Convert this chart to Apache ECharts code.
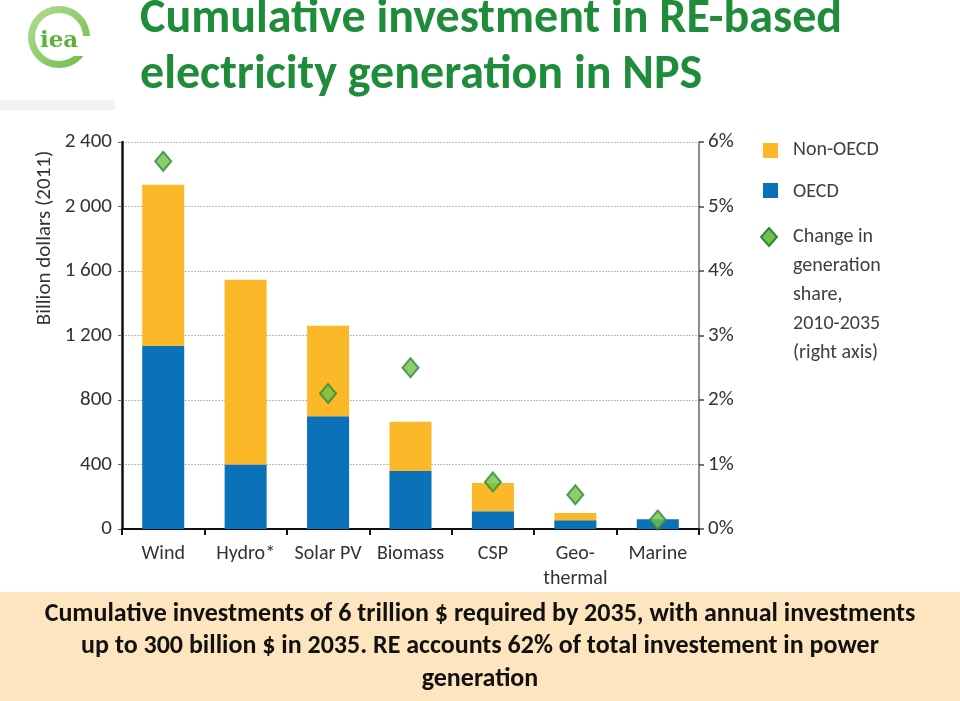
<!DOCTYPE html>
<html><head><meta charset="utf-8">
<script src="https://cdn.jsdelivr.net/npm/echarts@6/dist/echarts.min.js"></script>
<style>html,body{margin:0;padding:0;background:#fff;}#c{width:960px;height:701px;}</style>
</head><body><div id="c"></div>
<script>
const categories = ['Wind','Hydro*','Solar PV','Biomass','CSP','Geo-\nthermal','Marine'];
const oecd = [1135, 400, 700, 360, 110, 55, 60];
const nonOecd = [1000, 1145, 560, 305, 175, 45, 0];
const shareChange = [5.7, null, 2.1, 2.5, 0.73, 0.53, 0.14];
const leftTicks = [0, 400, 800, 1200, 1600, 2000, 2400];
const rightTicks = [0, 1, 2, 3, 4, 5, 6];

const FONT = 'Carlito, "Liberation Sans Narrow", "Open Sans", sans-serif';
const chart = echarts.init(document.getElementById('c'));
const fmtThousands = v => v >= 1000 ? String(v).replace(/(\d)(\d{3})$/, '$1 $2') : String(v);

chart.setOption({
  animation: false,
  grid: { left: 122, right: 261, top: 142, bottom: 172, containLabel: false },
  xAxis: {
    type: 'category', data: categories,
    axisLine: { lineStyle: { color: '#111', width: 2 } },
    axisTick: { show: true, alignWithLabel: false, length: 6, lineStyle: { color: '#111', width: 2 } },
    axisLabel: { interval: 0, fontFamily: FONT, fontSize: 20, color: '#333', margin: 12, lineHeight: 25 }
  },
  yAxis: [{
    type: 'value', min: 0, max: 2400, interval: 400,
    axisLine: { show: true, lineStyle: { color: '#111', width: 2.5 } },
    axisTick: { show: true, length: 4, lineStyle: { color: '#666' } },
    axisLabel: { fontFamily: FONT, fontSize: 21, color: '#333', margin: 10, formatter: fmtThousands },
    splitLine: { show: true, lineStyle: { color: '#bbb', type: [2, 1], width: 1 } }
  }, {
    type: 'value', min: 0, max: 6, interval: 1, position: 'right',
    axisLine: { show: true, lineStyle: { color: '#666', width: 1.5 } },
    axisTick: { show: true, length: 5, lineStyle: { color: '#444', width: 1.5 } },
    axisLabel: { fontFamily: FONT, fontSize: 21, color: '#333', margin: 9, formatter: v => v + '%' },
    splitLine: { show: false }
  }],
  series: [{
    name: 'OECD', type: 'bar', stack: 'inv', data: oecd, barWidth: '51%',
    itemStyle: { color: '#0b72b9' }
  }, {
    name: 'Non-OECD', type: 'bar', stack: 'inv', data: nonOecd, barWidth: '51%',
    itemStyle: { color: '#fbb829' }
  }, {
    name: 'Change in generation share, 2010-2035 (right axis)', type: 'scatter', yAxisIndex: 1,
    data: shareChange, symbol: 'diamond', symbolSize: [16, 19],
    itemStyle: { color: '#72c04a', borderColor: '#2b8a3a', borderWidth: 2 }, z: 5
  }],
  graphic: [
    // IEA logo
    { type: 'ring', shape: { cx: 59, cy: 37, r: 31, r0: 24 }, style: { fill: new echarts.graphic.LinearGradient(0,0,1,1,[{offset:0,color:'#b5dd98'},{offset:1,color:'#6cbd45'}]) } },
    { type: 'rect', shape: { x: 72, y: 36, width: 22, height: 20 }, style: { fill: '#fff' } },
    { type: 'text', left: 40, top: 30, style: { text: 'iea', font: 'bold 23px "DejaVu Serif", serif', fill: '#5cb336' } },
    { type: 'rect', shape: { x: 0, y: 100, width: 115, height: 10 }, style: { fill: '#f2f2f2' } },
    // Title
    { type: 'text', left: 140, top: -4, style: { text: 'Cumulative investment in RE-based', font: 'bold 48px ' + FONT, fill: '#1e8c3a' } },
    { type: 'text', left: 140, top: 52, style: { text: 'electricity generation in NPS', font: 'bold 48px ' + FONT, fill: '#1e8c3a' } },
    // Y axis name
    { type: 'text', x: 45, y: 238, rotation: Math.PI / 2, style: { text: 'Billion dollars (2011)', font: '21px ' + FONT, fill: '#333', align: 'center', verticalAlign: 'middle' } },
    // Legend
    { type: 'rect', shape: { x: 763, y: 143, width: 15, height: 15 }, style: { fill: '#fbb829' } },
    { type: 'text', left: 793, top: 140, style: { text: 'Non-OECD', font: '20px ' + FONT, fill: '#404040' } },
    { type: 'rect', shape: { x: 763, y: 183, width: 15, height: 15 }, style: { fill: '#0b72b9' } },
    { type: 'text', left: 793, top: 182, style: { text: 'OECD', font: '20px ' + FONT, fill: '#404040' } },
    { type: 'polygon', shape: { points: [[769,228],[777,237],[769,246],[761,237]] }, style: { fill: '#72c04a', stroke: '#2b8a3a', lineWidth: 2 } },
    { type: 'text', left: 793, top: 222, style: { text: 'Change in\ngeneration\nshare,\n2010-2035\n(right axis)', font: '20px ' + FONT, lineHeight: 29, fill: '#404040' } },
    // Bottom box
    { type: 'rect', shape: { x: 0, y: 592, width: 960, height: 109 }, style: { fill: '#fde6bf' } },
    { type: 'text', x: 480, y: 598, style: { text: 'Cumulative investments of 6 trillion $ required by 2035, with annual investments\nup to 300 billion $ in 2035. RE accounts 62% of total investement in power\ngeneration', font: 'bold 26px ' + FONT, lineHeight: 32.5, fill: '#111', align: 'center' } }
  ]
});
</script></body></html>
